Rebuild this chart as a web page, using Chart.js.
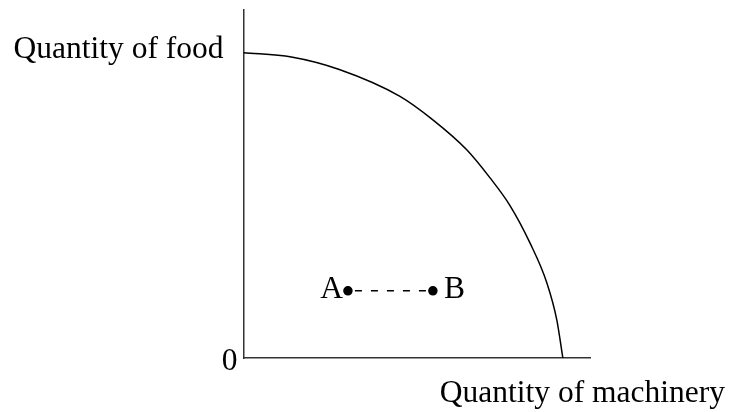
<!DOCTYPE html>
<html>
<head>
<meta charset="utf-8">
<script src="https://cdn.jsdelivr.net/npm/chart.js@4/dist/chart.umd.min.js"></script>
<style>
  html, body { margin: 0; padding: 0; background: #fff; }
  #wrap { width: 734px; height: 412px; }
</style>
</head>
<body>
<div id="wrap"><canvas id="myChart"></canvas></div>
<script>
// production possibilities frontier
var frontierX = [0, 1.5, 3.0, 4.9, 5.93, 6.99, 7.72, 8.34, 8.97, 9.5, 9.81, 10];
var frontierY = [10, 9.86, 9.45, 8.57, 7.8, 6.82, 5.9, 5.0, 3.77, 2.46, 1.25, 0];

var pointLabels = ['A', 'B'];
var pointX = [3.27, 5.93];
var pointY = [2.2, 2.2];

var xTitle = 'Quantity of machinery';
var yTitle = 'Quantity of food';
var originLabel = '0';

var font = '31.5px "Liberation Serif", "DejaVu Serif", serif';

var textPlugin = {
    id: 'textLabels',
    afterDraw: function (chart) {
        var ctx = chart.ctx;
        var xs = chart.scales.x, ys = chart.scales.y;
        var area = chart.chartArea;
        ctx.save();
        ctx.fillStyle = '#000';
        ctx.font = font;
        ctx.textBaseline = 'alphabetic';

        ctx.textAlign = 'right';
        ctx.fillText(yTitle, area.left - 20, ys.getPixelForValue(10) + 5);
        ctx.fillText(originLabel, area.left - 6, ys.getPixelForValue(0) + 12);
        ctx.fillText(xTitle, area.right + 135, ys.getPixelForValue(0) + 44);

        var ax = xs.getPixelForValue(pointX[0]), ay = ys.getPixelForValue(pointY[0]);
        ctx.fillText(pointLabels[0], ax - 5, ay + 7);
        ctx.textAlign = 'left';
        var bx = xs.getPixelForValue(pointX[1]), by = ys.getPixelForValue(pointY[1]);
        ctx.fillText(pointLabels[1], bx + 11, by + 7);
        ctx.restore();
    }
};

var frontier = frontierX.map(function (x, i) { return { x: x, y: frontierY[i] }; });
var points = pointX.map(function (x, i) { return { x: x, y: pointY[i] }; });

var ctx = document.getElementById('myChart');

var myChart = new Chart(ctx, {
    type: 'scatter',
    data: {
        datasets: [{
            data: frontier,
            showLine: true,
            borderColor: '#000',
            borderWidth: 1.5,
            pointRadius: 0,
            cubicInterpolationMode: 'monotone'
        }, {
            data: points,
            showLine: true,
            borderColor: '#000',
            borderWidth: 1.5,
            borderDash: [7, 9],
            borderDashOffset: 9,
            pointRadius: 4,
            pointBackgroundColor: '#000',
            pointBorderColor: '#000'
        }]
    },
    options: {
        responsive: true,
        maintainAspectRatio: false,
        animation: false,
        layout: {
            padding: { left: 243.5, right: 144, top: 10, bottom: 54 }
        },
        plugins: {
            legend: { display: false },
            tooltip: { enabled: false }
        },
        scales: {
            x: {
                min: 0,
                max: 10.85,
                grid: { display: false },
                ticks: { display: false },
                border: { display: true, color: '#333', width: 1.5 },
                afterFit: function (scale) { scale.height = 0; }
            },
            y: {
                min: 0,
                max: 11.4,
                grid: { display: false },
                ticks: { display: false },
                border: { display: true, color: '#333', width: 1.5 },
                afterFit: function (scale) { scale.width = 0; }
            }
        }
    },
    plugins: [textPlugin]
});
</script>
</body>
</html>
